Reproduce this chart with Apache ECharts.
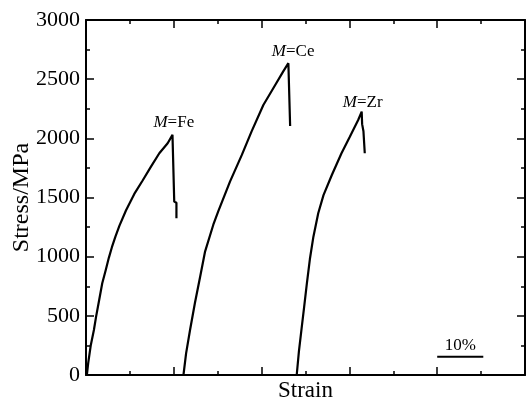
<!DOCTYPE html>
<html>
<head>
<meta charset="utf-8">
<script src="https://cdn.jsdelivr.net/npm/echarts@6/dist/echarts.min.js"></script>
<style>
  html, body { margin: 0; padding: 0; background: #fff; }
  #chart { width: 526px; height: 403px; }
</style>
</head>
<body>
<div id="chart"></div>
<script>
// strain (%) vs stress (MPa), curves shifted along strain axis
const feCurve = [[0.2,0],[0.5,100],[1.1,254],[1.8,380],[2.3,493],[3.0,634],[3.7,775],[4.5,888],[5.2,990],[5.9,1080],[6.7,1170],[7.6,1260],[9.1,1390],[11.0,1530],[12.9,1644],[14.8,1761],[16.7,1874],[18.6,1958],[19.7,2029],[20.0,2040],[20.1,2040],[20.1,1465],[20.6,1455],[20.6,1325]]
const ceCurve = [[22.2,0],[22.8,183],[23.7,380],[24.8,606],[26.0,831],[27.1,1040],[29.0,1270],[30.1,1380],[32.8,1634],[35.5,1860],[37.7,2057],[40.4,2282],[43.1,2451],[44.9,2564],[46.1,2635],[46.5,2640],[46.5,2105]]
const zrCurve = [[48.0,0],[48.5,200],[49.1,390],[49.7,577],[50.3,770],[51.0,980],[51.8,1169],[52.9,1367],[54.1,1520],[56.0,1690],[58.2,1874],[60.1,2014],[62.0,2155],[62.8,2226],[62.9,2226],[62.9,2120],[63.2,2120],[63.2,2060],[63.5,2060],[63.5,1874]]

const curveNames = ['Fe', 'Ce', 'Zr']
const scaleBar = [[80,155],[90.5,155]]
const scaleBarText = '10%'

const font = 'Liberation Serif'
const chart = echarts.init(document.getElementById('chart'))

const peakOf = (arr)=>arr.reduce((a,b)=> b[1] > a[1] ? b : a)

const axisCommon = {
  axisLine: { show: true, onZero: false, lineStyle: { color: '#000', width: 2 } },
  axisTick: { show: true, inside: true, length: 8, lineStyle: { color: '#000', width: 1.5 } },
  minorTick: { show: true, splitNumber: 2, length: 4, lineStyle: { color: '#000', width: 1.5 } },
  splitLine: { show: false }
}

const lineSeries = (data)=>({
  type: 'line',
  data: data,
  symbol: 'none',
  lineStyle: { color: '#000', width: 2.2 },
  animation: false
})

const labelSeries = curveNames.map((n, i)=>{
  const pk = peakOf([feCurve, ceCurve, zrCurve][i])
  const offs = [[0, -1], [3, -1], [1, 1]][i]
  return {
    type: 'scatter',
    data: [pk],
    symbolSize: 0,
    silent: true,
    animation: false,
    itemStyle: { color: '#000', opacity: 1 },
    label: {
      show: true,
      position: 'top',
      distance: 2,
      offset: offs,
      color: '#000',
      formatter: '{i|M}{t|=' + n + '}',
      rich: {
        i: { fontFamily: font, fontStyle: 'italic', fontSize: 17, color: '#000' },
        t: { fontFamily: font, fontSize: 17, color: '#000' }
      }
    }
  }
})

const options = {
  backgroundColor: '#fff',
  grid: { left: 86, top: 20, width: 439, height: 355, outerBoundsMode: 'none', containLabel: false },
  xAxis: [
    Object.assign({}, axisCommon, {
      type: 'value', min: 0, max: 100, interval: 20, position: 'bottom',
      axisLabel: { show: false },
      name: 'Strain', nameLocation: 'middle', nameGap: 4, nameMoveOverlap: false,
      nameTextStyle: { fontFamily: font, fontSize: 23, color: '#000', verticalAlign: 'top' }
    }),
    Object.assign({}, axisCommon, {
      type: 'value', min: 0, max: 100, interval: 20, position: 'top',
      axisLabel: { show: false }
    })
  ],
  yAxis: [
    Object.assign({}, axisCommon, {
      type: 'value', min: 0, max: 3000, interval: 500, position: 'left',
      axisLabel: { fontFamily: font, fontSize: 22, color: '#000', margin: 6, formatter: (v)=>String(v) },
      name: 'Stress/MPa', nameLocation: 'middle', nameGap: 52, nameMoveOverlap: false,
      nameTextStyle: { fontFamily: font, fontSize: 24, color: '#000' }
    }),
    Object.assign({}, axisCommon, {
      type: 'value', min: 0, max: 3000, interval: 500, position: 'right',
      axisLabel: { show: false }
    })
  ],
  series: [
    lineSeries(feCurve),
    lineSeries(ceCurve),
    lineSeries(zrCurve),
    {
      type: 'line',
      data: scaleBar,
      symbol: 'none',
      lineStyle: { color: '#000', width: 2 },
      animation: false,
      markPoint: {
        symbolSize: 0,
        data: [{ coord: [(scaleBar[0][0] + scaleBar[1][0]) / 2, scaleBar[0][1]] }],
        label: {
          show: true, position: 'top', distance: 3,
          formatter: scaleBarText,
          fontFamily: font, fontSize: 17, color: '#000'
        }
      }
    },
    ...labelSeries
  ]
}

chart.setOption(options)
</script>
</body>
</html>
